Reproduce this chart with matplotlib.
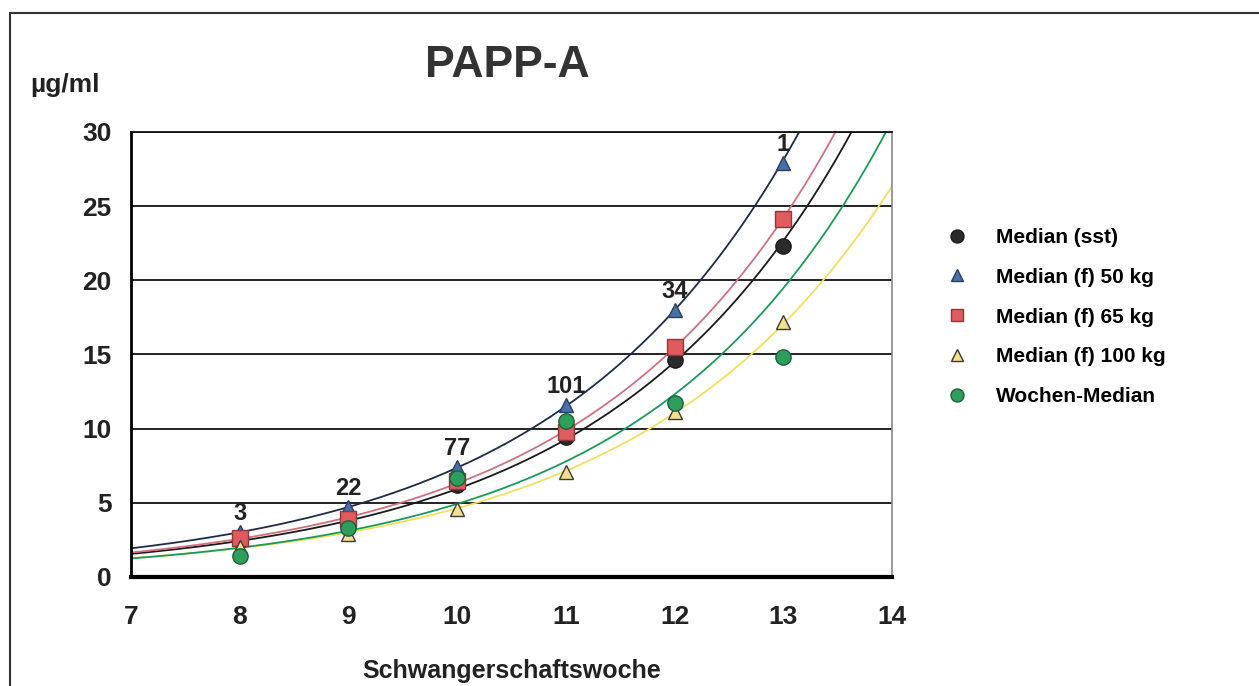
#!/usr/bin/env python3
"""PAPP-A medians per week of pregnancy with exponential trend lines."""

import matplotlib
matplotlib.use("Agg")
import matplotlib.pyplot as plt
import numpy as np

plt.rcParams["font.family"] = ["Liberation Sans", "DejaVu Sans"]
plt.rcParams["font.weight"] = "bold"

WEEKS = [8, 9, 10, 11, 12, 13]
SST = [2.5, 3.5, 6.2, 9.4, 14.6, 22.3]
F50 = [3.0, 4.7, 7.4, 11.6, 18.0, 27.9]
F65 = [2.6, 3.9, 6.5, 9.8, 15.5, 24.1]
F100 = [2.0, 2.9, 4.6, 7.1, 11.1, 17.2]
WOCHEN = [1.4, 3.3, 6.7, 10.5, 11.7, 14.8]
COUNTS = ["3", "22", "77", "101", "34", "1"]

SERIES = [
    # label, values, marker, face, edge, line colour, marker size
    ("Median (sst)", SST, "o", "#2a2a2a", "#1a1a1a", "#1a1a1a", 11),
    ("Median (f) 50 kg", F50, "^", "#4a6ea8", "#2a3e60", "#1e2b48", 10),
    ("Median (f) 65 kg", F65, "s", "#e05a5e", "#8a3a3a", "#d07080", 11),
    ("Median (f) 100 kg", F100, "^", "#f4e08c", "#3a3a3a", "#f0e060", 10),
    ("Wochen-Median", WOCHEN, "o", "#2e9e5c", "#1e5e3a", "#1a9a5a", 11),
]


def main():
    fig = plt.figure(figsize=(12.59, 6.86), dpi=100, facecolor="white")
    ax = fig.add_axes([0.104, 0.159, 0.6045, 0.6487])

    xs = np.linspace(7, 14, 300)
    handles = []
    for label, vals, mk, fc, ec, lc, ms in SERIES:
        # exponential trend line fitted to the medians
        k, c = np.polyfit(WEEKS, np.log(vals), 1)
        ax.plot(xs, np.exp(c + k * xs), color=lc, lw=1.3, zorder=2)
    # draw markers after all lines
    for label, vals, mk, fc, ec, lc, ms in SERIES:
        h, = ax.plot(WEEKS, vals, linestyle="none", marker=mk, markersize=ms,
                     markerfacecolor=fc, markeredgecolor=ec, markeredgewidth=1,
                     label=label, zorder=3)
        handles.append(h)

    for w, v, t in zip(WEEKS, F50, COUNTS):
        ax.annotate(t, (w, v), xytext=(0, 5), textcoords="offset points",
                    ha="center", va="bottom", fontsize=17, fontweight="bold",
                    color="#222222", zorder=4)

    ax.set_xlim(7, 14)
    ax.set_ylim(0, 30)
    ax.set_xticks(range(7, 15))
    ax.set_yticks(range(0, 31, 5))
    ax.tick_params(axis="y", length=0, labelsize=19, colors="#222222", pad=14)
    ax.tick_params(axis="x", length=0, labelsize=19, colors="#222222", pad=20)
    for lab in ax.get_xticklabels() + ax.get_yticklabels():
        lab.set_fontweight("bold")
    ax.yaxis.grid(True, color="#111111", lw=1.3)
    ax.set_axisbelow(True)
    ax.spines["top"].set_color("#111111")
    ax.spines["top"].set_linewidth(1.3)
    ax.spines["right"].set_color("#888888")
    ax.spines["right"].set_linewidth(1.2)
    ax.spines["left"].set_linewidth(2)
    ax.spines["bottom"].set_linewidth(3)

    ax.set_xlabel("Schwangerschaftswoche", fontsize=18, fontweight="bold",
                  color="#222222", labelpad=22)
    fig.text(0.403, 0.905, "PAPP-A", fontsize=32, fontweight="bold",
             color="#333333", ha="center", va="center")
    fig.text(0.024, 0.876, "µg/ml", fontsize=19, fontweight="bold",
             color="#222222", ha="left", va="center")

    fig.legend(handles=handles, loc="upper left", bbox_to_anchor=(0.745, 0.68),
               frameon=False, fontsize=15, labelspacing=1.0, handletextpad=1.4,
               handlelength=1.0, borderaxespad=0, markerscale=0.85)

    # frame around the whole chart
    fig.add_artist(plt.Rectangle((0.008, -0.05), 1.1, 1.031, transform=fig.transFigure,
                                 fill=False, edgecolor="#333333", lw=1.5))

    fig.savefig("out.png", dpi=100, facecolor="white")
    plt.close(fig)


if __name__ == "__main__":
    main()
